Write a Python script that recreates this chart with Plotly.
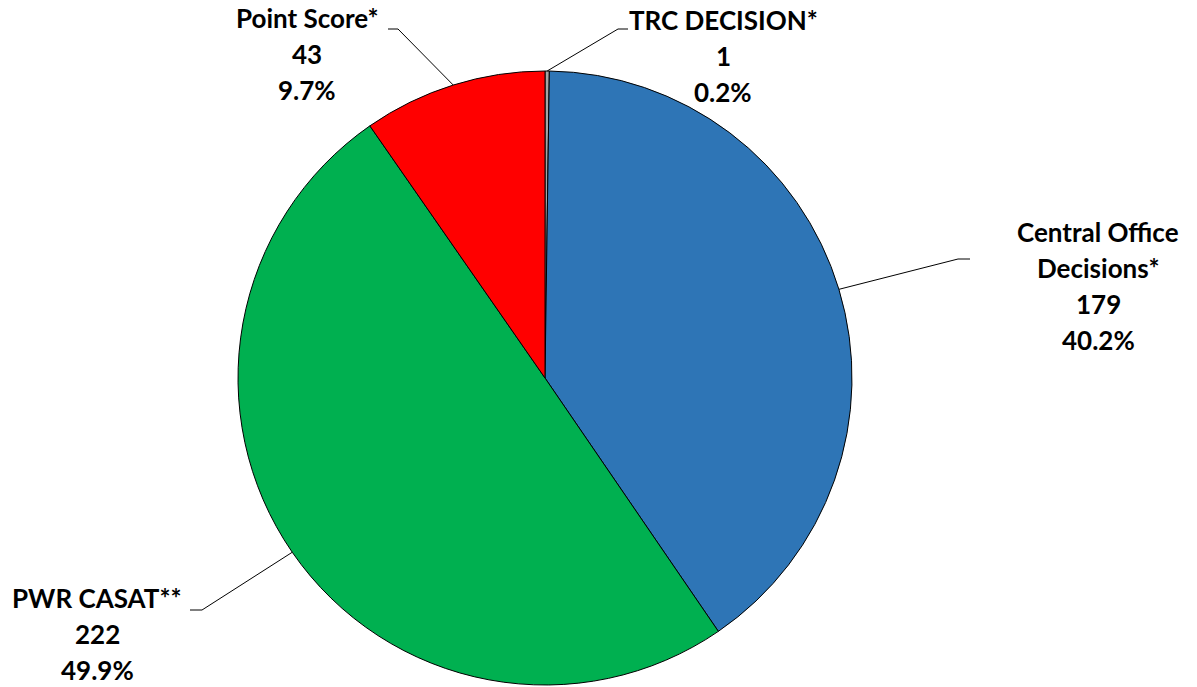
import math
import plotly.graph_objects as go

# ---- data ----
categories = ["TRC DECISION*", "Central Office Decisions*", "PWR CASAT**", "Point Score*"]
label_lines = [["TRC DECISION*"], ["Central Office", "Decisions*"], ["PWR CASAT**"], ["Point Score*"]]
values = [1, 179, 222, 43]
colors = ["#A5A5A5", "#2E75B6", "#00B050", "#FF0000"]

# ---- layout constants (pixels) ----
W, H = 1197, 687
CX, CY, R = 545, 378, 307
FONT = dict(family="Lato, 'Open Sans', sans-serif", size=26, color="#000000")
LINE_H = 36
# per label: (text center x, first line center y, elbow x, elbow y, end x)
label_layout = [
    (723, 20, 618, 29, 628),
    (1098, 232, 958, 259, 970),
    (97, 598, 202, 610, 190),
    (307, 18, 398, 29, 388),
]

def px(x):
    return x / W

def py(y):
    return 1 - y / H

total = sum(values)
fig = go.Figure(go.Pie(
    values=values,
    labels=categories,
    sort=False,
    direction="clockwise",
    rotation=0,
    marker=dict(colors=colors, line=dict(color="#000000", width=1)),
    textinfo="none",
    hoverinfo="label+value+percent",
    domain=dict(x=[px(CX - R), px(CX + R)], y=[py(CY + R), py(CY - R)]),
    showlegend=False,
))

annotations = []
shapes = []
cum = 0
for i, v in enumerate(values):
    mid = (cum + v / 2) / total * 2 * math.pi
    cum += v
    ex = CX + R * math.sin(mid)
    ey = CY - R * math.cos(mid)
    tx, ty, elx, ely, endx = label_layout[i]
    pct = v / total * 100
    lines = label_lines[i] + [f"{v}", f"{pct:.1f}%"]
    for k, t in enumerate(lines):
        annotations.append(dict(
            x=px(tx), y=py(ty + k * LINE_H), xref="paper", yref="paper",
            text=f"<b>{t}</b>", showarrow=False, font=FONT,
            xanchor="center", yanchor="middle",
        ))
    shapes.append(dict(type="path", xref="paper", yref="paper",
                       path=f"M {px(ex)},{py(ey)} L {px(elx)},{py(ely)} L {px(endx)},{py(ely)}",
                       line=dict(color="#000000", width=1)))

fig.update_layout(
    width=W, height=H,
    margin=dict(l=0, r=0, t=0, b=0),
    paper_bgcolor="#FFFFFF",
    plot_bgcolor="#FFFFFF",
    annotations=annotations,
    shapes=shapes,
)

fig.write_html("out.html")
